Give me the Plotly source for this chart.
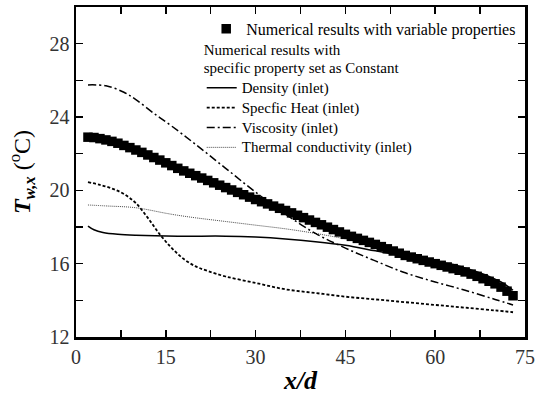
import plotly.graph_objects as go

# ---- data ----
sq_x = list(range(2, 74))
sq_y = [22.90, 22.88, 22.82, 22.75, 22.67, 22.57, 22.45, 22.33, 22.20, 22.07,
        21.93, 21.79, 21.65, 21.50, 21.35, 21.20, 21.06, 20.93, 20.80, 20.67,
        20.54, 20.41, 20.28, 20.15, 20.02, 19.89, 19.76, 19.63, 19.50, 19.38,
        19.26, 19.14, 19.02, 18.90, 18.77, 18.64, 18.51, 18.38, 18.25, 18.12,
        17.99, 17.86, 17.73, 17.60, 17.49, 17.38, 17.27, 17.16, 17.05, 16.93,
        16.81, 16.69, 16.57, 16.45, 16.36, 16.27, 16.18, 16.09, 16.00, 15.91,
        15.82, 15.73, 15.64, 15.55, 15.43, 15.31, 15.18, 15.04, 14.90, 14.72,
        14.50, 14.25]

dens_x = [2, 3, 4.5, 7, 10, 17, 25, 30, 35, 40, 45, 50, 55, 60, 63, 66, 69, 71, 73]
dens_y = [18.05, 17.85, 17.7, 17.6, 17.55, 17.5, 17.5, 17.45, 17.35, 17.2, 17.0,
          16.7, 16.4, 16.1, 15.95, 15.65, 15.3, 15.0, 14.55]

cp_x = [2, 4, 6, 8, 10, 12, 14, 16, 18, 20, 22, 25, 30, 35, 40, 45, 50, 55, 60, 65, 70, 73]
cp_y = [20.45, 20.3, 20.1, 19.8, 19.3, 18.5, 17.6, 16.85, 16.25, 15.85, 15.6, 15.3,
        14.95, 14.6, 14.4, 14.2, 14.05, 13.9, 13.75, 13.6, 13.45, 13.35]

vis_x = [2, 5, 8, 10, 13, 16, 20, 25, 30, 35, 40, 45, 50, 55, 60, 65, 70, 73]
vis_y = [25.75, 25.7, 25.35, 24.95, 24.2, 23.5, 22.5, 21.2, 19.9, 18.7, 17.65,
         16.85, 16.15, 15.5, 15.0, 14.55, 14.05, 13.75]

k_x = [2, 5, 10, 15, 17, 20, 25, 30, 35, 40, 45, 50, 55, 60, 65, 70, 73]
k_y = [19.2, 19.15, 19.05, 18.75, 18.64, 18.5, 18.3, 18.1, 17.9, 17.65, 17.35,
       17.0, 16.45, 15.95, 15.5, 14.85, 14.2]

# tick labels, and all tick positions (majors plus the halfway minors)
x_ticks = [0, 15, 30, 45, 60, 75]
x_tick_pos = [0, 7.5, 15, 22.5, 30, 37.5, 45, 52.5, 60, 67.5, 75]
y_ticks = [12, 16, 20, 24, 28]
y_tick_pos = [12, 14, 16, 18, 20, 22, 24, 26, 28, 30]

FONT = "Liberation Serif"
W, H = 536, 395
ML, MR, MT, MB = 76, 11, 7, 58

x_range = [x_tick_pos[0], x_tick_pos[-1]]
y_range = [y_tick_pos[0], y_tick_pos[-1]]


def lbl(s, size):
    return f'<span style="font-size:{size}px">{s}</span>'


fig = go.Figure()

fig.add_trace(go.Scatter(
    x=k_x, y=k_y, mode="lines", name=lbl("Thermal conductivity (inlet)", 15),
    line=dict(color="#333333", width=0.9, dash="1px,1px", shape="spline"),
    legend="legend2", legendrank=4))
fig.add_trace(go.Scatter(
    x=cp_x, y=cp_y, mode="lines", name=lbl("Specfic Heat (inlet)", 15),
    line=dict(color="black", width=1.8, dash="3px,2px", shape="spline"),
    legend="legend2", legendrank=2))
fig.add_trace(go.Scatter(
    x=vis_x, y=vis_y, mode="lines", name=lbl("Viscosity (inlet)", 15),
    line=dict(color="black", width=1.5, dash="8px,3px,2px,3px", shape="spline"),
    legend="legend2", legendrank=3))
fig.add_trace(go.Scatter(
    x=sq_x, y=sq_y, mode="markers", name="Numerical results with variable properties",
    marker=dict(symbol="square", size=9.5, color="black", line=dict(width=0)),
    legend="legend"))
fig.add_trace(go.Scatter(
    x=dens_x, y=dens_y, mode="lines", name=lbl("Density (inlet)", 15),
    line=dict(color="black", width=1.5, shape="spline"),
    legend="legend2", legendrank=1))

axis_common = dict(
    showline=True, linecolor="black", linewidth=2.5, mirror="allticks",
    ticks="inside", ticklen=7, tickwidth=1.5, tickcolor="black",
    showgrid=False, zeroline=False,
    tickfont=dict(family=FONT, size=20, color="#333333"),
)

fig.update_xaxes(
    range=x_range, tickmode="array",
    tickvals=x_tick_pos, ticktext=[str(v) if v in x_ticks else " " for v in x_tick_pos],
    title=dict(text="<b><i>x/d</i></b>", font=dict(family=FONT, size=26, color="black"), standoff=4),
    **axis_common)
fig.update_yaxes(
    range=y_range, tickmode="array",
    tickvals=y_tick_pos, ticktext=[str(v) if v in y_ticks else " " for v in y_tick_pos],
    title=dict(text="<b><i>T</i></b><sub><b><i>w,x</i></b></sub> (<sup>o</sup>C)",
               font=dict(family=FONT, size=24, color="black"), standoff=12),
    **axis_common)

fig.update_layout(
    width=W, height=H,
    margin=dict(l=ML, r=MR, t=MT, b=MB, autoexpand=False),
    paper_bgcolor="white", plot_bgcolor="white",
    font=dict(family=FONT, color="black"),
    showlegend=True,
    legend=dict(x=0.29, y=0.985, xanchor="left", yanchor="top",
                bgcolor="rgba(0,0,0,0)", font=dict(family=FONT, size=16, color="black"),
                tracegroupgap=0, itemwidth=30),
    legend2=dict(x=0.28, y=0.91, xanchor="left", yanchor="top",
                 bgcolor="rgba(0,0,0,0)", font=dict(family=FONT, size=13, color="black"),
                 title=dict(text=lbl("Numerical results with", 15) + "<br>" +
                            lbl("specific property set as Constant", 15),
                            font=dict(family=FONT, size=13.85, color="black")),
                 tracegroupgap=0, itemwidth=30, traceorder="normal"),
)

fig.write_html("out.html", config={"staticPlot": True, "displayModeBar": False})
